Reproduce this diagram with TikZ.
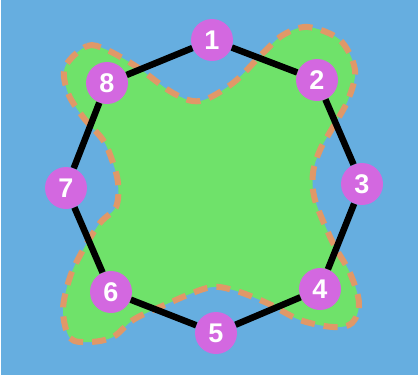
\documentclass[tikz,border=0pt]{standalone}
\usepackage{fontspec}
\setmainfont{Liberation Sans}
\usepackage{tikz}
\definecolor{skyblue}{HTML}{66AEE0}
\definecolor{leafgreen}{HTML}{6FE26A}
\definecolor{dashorange}{HTML}{E09868}
\definecolor{orchidpink}{HTML}{D368E0}

\begin{document}
\begin{tikzpicture}[
        x=1pt, y=-1pt,
        vertex/.style={circle, fill=orchidpink, minimum size=42pt, inner sep=0pt, text=white, font=\fontsize{27}{27}\selectfont\bfseries},
        edge/.style={line width=6.5pt, draw=black},
        blob/.style={fill=leafgreen, draw=dashorange, line width=6pt, dash pattern=on 14pt off 9pt}
    ]
        \useasboundingbox (0,0) rectangle (418,378);
        \fill[white] (0,0) rectangle (418,378);
        \fill[skyblue] (1,0) rectangle (418,375);

        % four-lobed region
        \draw[blob] plot[smooth cycle, tension=0.55] coordinates {
            (65,67) (87,46) (107,50) (137,67) (173,93) (200,101) (233,83) (263,53)
            (283,35) (308,27) (340,40) (355,70) (348,100) (333,127) (320,150) (313,173)
            (315,200) (333,243) (350,273) (359,303) (352,323) (333,327) (300,320) (267,303)
            (233,290) (207,288) (160,307) (133,320) (113,337) (90,342) (70,338) (63,310)
            (70,277) (83,250) (100,223) (116,207) (118,183) (112,160) (103,140) (83,117) (68,93)};

        \node[vertex] (n1) at (212,40) {1};
        \node[vertex] (n2) at (317,80) {2};
        \node[vertex] (n3) at (362,184) {3};
        \node[vertex] (n4) at (320,289) {4};
        \node[vertex] (n5) at (216,333) {5};
        \node[vertex] (n6) at (111,292) {6};
        \node[vertex] (n7) at (66,188) {7};
        \node[vertex] (n8) at (107,83) {8};

        \foreach \a/\b in {n1/n2, n2/n3, n3/n4, n4/n5, n5/n6, n6/n7, n7/n8, n8/n1}
            \draw[edge] (\a) -- (\b);
    \end{tikzpicture}
\end{document}
